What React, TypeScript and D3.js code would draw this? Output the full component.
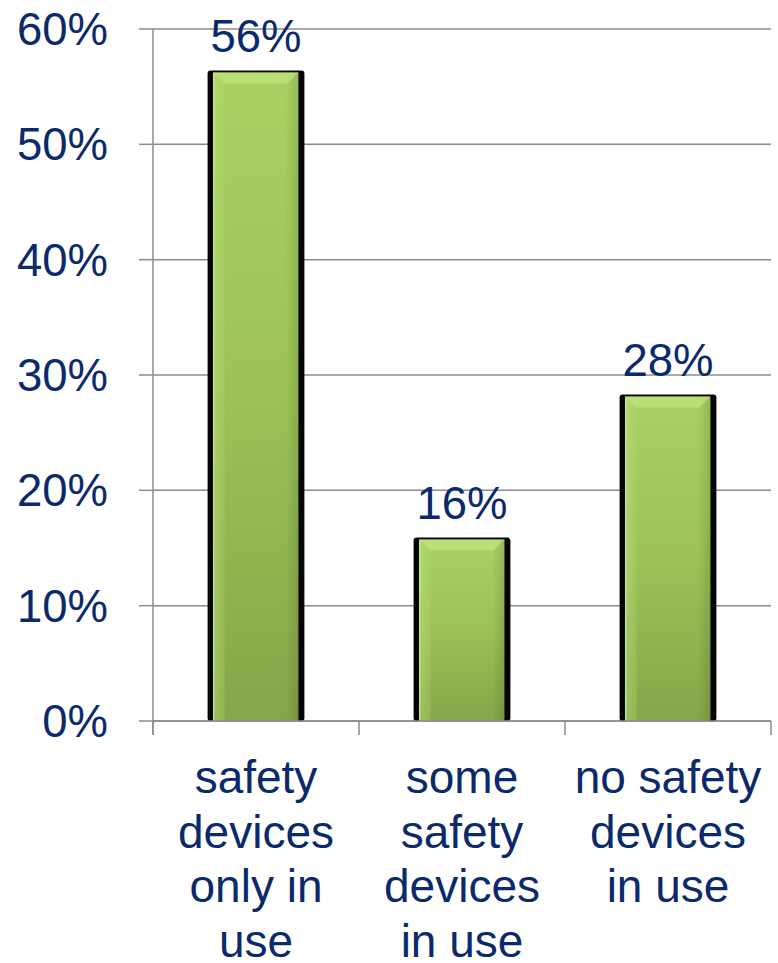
import React from "react";
import * as d3 from "d3";

const categories: string[][] = [
  ["safety", "devices", "only in", "use"],
  ["some", "safety", "devices", "in use"],
  ["no safety", "devices", "in use"],
];
const values: number[] = [56.4, 15.9, 28.3];
const valueLabels: string[] = ["56%", "16%", "28%"];
const yTicks: number[] = [0, 10, 20, 30, 40, 50, 60];

const W = 778;
const H = 963;
const FONT = "'Liberation Sans', Arial, sans-serif";
const TEXT = "#0b2a6c";
const GRID = "#8c8c8c";

export default function App() {
  const x = d3
    .scaleBand<number>()
    .domain(values.map((_, i) => i))
    .range([153, 771])
    .paddingInner(0.53)
    .paddingOuter(0.265);
  const y = d3.scaleLinear().domain([0, 60]).range([721, 29]);
  const bw = x.bandwidth();
  const step = x.step();
  const x0 = 153;
  const x1 = 771;

  return (
    <svg
      width={W}
      height={H}
      style={{ position: "absolute", left: 0, top: 0, background: "#fff" }}
      fontFamily={FONT}
    >
      <defs>
        <linearGradient id="gv" x1="0" y1="0" x2="0" y2="1">
          <stop offset="0" stopColor="#a9d162" />
          <stop offset="0.5" stopColor="#9cc257" />
          <stop offset="1" stopColor="#86a64a" />
        </linearGradient>
        <linearGradient id="gh" x1="0" y1="0" x2="1" y2="0">
          <stop offset="0" stopColor="#ffffff" stopOpacity="0.15" />
          <stop offset="0.1" stopColor="#ffffff" stopOpacity="0" />
          <stop offset="0.85" stopColor="#000000" stopOpacity="0" />
          <stop offset="1" stopColor="#000000" stopOpacity="0.12" />
        </linearGradient>
      </defs>

      {yTicks.map((t) => (
        <line key={"g" + t} x1={x0} x2={x1} y1={y(t)} y2={y(t)} stroke={GRID} strokeWidth={1.5} />
      ))}
      <line x1={x0} x2={x0} y1={y(60)} y2={y(0) + 14} stroke={GRID} strokeWidth={1.5} />
      {yTicks.map((t) => (
        <g key={"t" + t}>
          <line x1={x0 - 14} x2={x0} y1={y(t)} y2={y(t)} stroke={GRID} strokeWidth={1.5} />
          <text x={108} y={y(t) + 16} textAnchor="end" fontSize={45.5} fill={TEXT}>
            {t + "%"}
          </text>
        </g>
      ))}
      {d3.range(categories.length + 1).map((i) => (
        <line
          key={"xt" + i}
          x1={x0 + i * step}
          x2={x0 + i * step}
          y1={y(0)}
          y2={y(0) + 14}
          stroke={GRID}
          strokeWidth={1.5}
        />
      ))}

      {values.map((v, i) => {
        const bx = x(i)!;
        const top = y(v);
        const bot = y(0);
        const inset = 6;
        const gx = bx + inset;
        const gw = bw - inset * 2;
        const bev = 11;
        return (
          <g key={"b" + i}>
            <rect x={bx} y={top} width={bw} height={bot - top} fill="#050505" rx={3} />
            <rect x={gx} y={top + 2} width={gw} height={bot - top - 2} fill="url(#gv)" />
            <rect x={gx} y={top + 2} width={gw} height={bot - top - 2} fill="url(#gh)" />
            <path
              d={`M${gx},${top + 2} L${gx + gw},${top + 2} L${gx + gw - bev},${top + 2 + bev} L${gx + bev},${top + 2 + bev} Z`}
              fill="#c2e37f"
              opacity={0.75}
            />
            <path
              d={`M${gx},${top + 2} L${gx + bev},${top + 2 + bev} L${gx + bev},${bot} L${gx},${bot} Z`}
              fill="#b5d96e"
              opacity={0.3}
            />
            <line x1={gx} x2={gx} y1={top + 2} y2={bot} stroke="#c8e88a" strokeWidth={1.2} />
            <text x={bx + bw / 2} y={top - 19} textAnchor="middle" fontSize={45.5} fill={TEXT}>
              {valueLabels[i]}
            </text>
          </g>
        );
      })}
      <line x1={x0} x2={x1} y1={y(0)} y2={y(0)} stroke={GRID} strokeWidth={1.5} />

      {categories.map((lines, i) => (
        <text key={"c" + i} textAnchor="middle" fontSize={46} fill={TEXT}>
          {lines.map((ln, j) => (
            <tspan key={j} x={x(i)! + bw / 2} y={793 + j * 54.5}>
              {ln}
            </tspan>
          ))}
        </text>
      ))}
    </svg>
  );
}
